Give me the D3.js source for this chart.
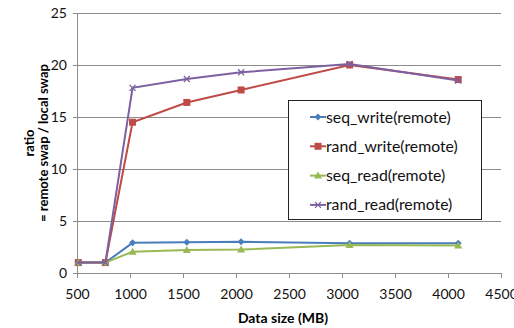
<!DOCTYPE html>
<html>
<head>
<meta charset="utf-8">
<script src="https://cdn.jsdelivr.net/npm/d3@7"></script>
<style>
  body { margin: 0; background: #fff; }
  text { font-family: Lato, "Open Sans", sans-serif; }
</style>
</head>
<body>
<svg id="chart" width="514" height="328"></svg>
<script>
// Data size (MB) for each run
const sizes = [512, 768, 1024, 1536, 2048, 3072, 4096];

// ratio = remote swap / local swap
const seqWrite  = [1, 1, 2.9, 2.95, 3.0, 2.85, 2.85];
const randWrite = [1, 1, 14.5, 16.4, 17.6, 20.0, 18.6];
const seqRead   = [1, 1, 2.05, 2.2, 2.25, 2.7, 2.65];
const randRead  = [1, 1, 17.8, 18.65, 19.3, 20.1, 18.5];

const seriesNames = ['seq_write(remote)', 'rand_write(remote)', 'seq_read(remote)', 'rand_read(remote)'];
const xTicks = [500, 1000, 1500, 2000, 2500, 3000, 3500, 4000, 4500];
const yTicks = [0, 5, 10, 15, 20, 25];

const series = [
  { name: seriesNames[0], values: seqWrite,  color: '#4A7EBB', marker: 'diamond' },
  { name: seriesNames[1], values: randWrite, color: '#BE4B48', marker: 'square' },
  { name: seriesNames[2], values: seqRead,   color: '#98B954', marker: 'triangle' },
  { name: seriesNames[3], values: randRead,  color: '#7D60A0', marker: 'x' }
];

const svg = d3.select('#chart');
const margin = { left: 77, right: 13, top: 13, bottom: 55 };
const W = 514, H = 328;

const x = d3.scaleLinear().domain([500, 4500]).range([margin.left, W - margin.right]);
const y = d3.scaleLinear().domain([0, 25]).range([H - margin.bottom, margin.top]);

// gridlines
svg.append('g')
  .selectAll('line')
  .data(yTicks.filter(d => d > 0))
  .join('line')
  .attr('x1', x(500) - 4).attr('x2', x(4500))
  .attr('y1', d => y(d)).attr('y2', d => y(d))
  .attr('stroke', '#8c8c8c').attr('stroke-width', 1)
  .attr('shape-rendering', 'crispEdges');

// y axis
const yAxis = svg.append('g')
  .attr('transform', `translate(${x(500)},0)`)
  .call(d3.axisLeft(y).tickValues(yTicks).tickSize(4).tickPadding(6));
yAxis.select('.domain').attr('stroke', '#8c8c8c');
yAxis.selectAll('line').attr('stroke', '#8c8c8c');
yAxis.selectAll('text').attr('font-size', 14).attr('fill', '#111');

// x axis
const xAxis = svg.append('g')
  .attr('transform', `translate(0,${y(0)})`)
  .call(d3.axisBottom(x).tickValues(xTicks).tickFormat(d3.format('d')).tickSize(5).tickPadding(11));
xAxis.select('.domain').attr('stroke', '#8c8c8c');
xAxis.selectAll('line').attr('stroke', '#8c8c8c');
xAxis.selectAll('text').attr('font-size', 14).attr('fill', '#111');
svg.selectAll('.domain, .tick line').attr('shape-rendering', 'crispEdges');

// axis titles
svg.append('text')
  .attr('x', 283).attr('y', 323)
  .attr('text-anchor', 'middle')
  .attr('font-size', 14).attr('font-weight', 'bold')
  .text('Data size (MB)');

const yt = svg.append('text')
  .attr('transform', 'translate(0,143) rotate(-90)')
  .attr('text-anchor', 'middle')
  .attr('font-size', 13).attr('font-weight', 'bold');
yt.append('tspan').attr('x', 0).attr('y', 34).text('ratio');
yt.append('tspan').attr('x', 0).attr('y', 48).text('= remote swap / local swap');

function drawMarker(g, type, color) {
  if (type === 'diamond') {
    g.append('path').attr('d', 'M0,-3.5L3.5,0L0,3.5L-3.5,0Z').attr('fill', color);
  } else if (type === 'square') {
    g.append('rect').attr('x', -3.5).attr('y', -3.5).attr('width', 7).attr('height', 7).attr('fill', color);
  } else if (type === 'triangle') {
    g.append('path').attr('d', 'M0,-4L4,3L-4,3Z').attr('fill', color);
  } else {
    g.append('path').attr('d', 'M-3,-3L3,3M-3,3L3,-3').attr('stroke', color).attr('stroke-width', 1.3);
  }
}

const line = d3.line().x(d => x(d[0])).y(d => y(d[1]));

series.forEach(s => {
  const pts = sizes.map((v, i) => [v, s.values[i]]);
  svg.append('path')
    .datum(pts)
    .attr('d', line)
    .attr('fill', 'none')
    .attr('stroke', s.color)
    .attr('stroke-width', 2);
  pts.forEach(p => {
    const g = svg.append('g').attr('transform', `translate(${x(p[0])},${y(p[1])})`);
    drawMarker(g, s.marker, s.color);
  });
});

// legend
const lg = svg.append('g').attr('transform', 'translate(288,100)');
lg.append('rect')
  .attr('x', 0.5).attr('y', 0.5).attr('width', 193).attr('height', 119)
  .attr('fill', '#fff').attr('stroke', '#222').attr('stroke-width', 1);
series.forEach((s, i) => {
  const cy = 17 + i * 29.3;
  lg.append('line')
    .attr('x1', 22).attr('x2', 38).attr('y1', cy).attr('y2', cy)
    .attr('stroke', s.color).attr('stroke-width', 2);
  drawMarker(lg.append('g').attr('transform', `translate(30,${cy})`), s.marker, s.color);
  lg.append('text')
    .attr('x', 38).attr('y', cy).attr('dy', '0.35em')
    .attr('font-size', 15.8).attr('fill', '#111')
    .text(s.name);
});
</script>
</body>
</html>
